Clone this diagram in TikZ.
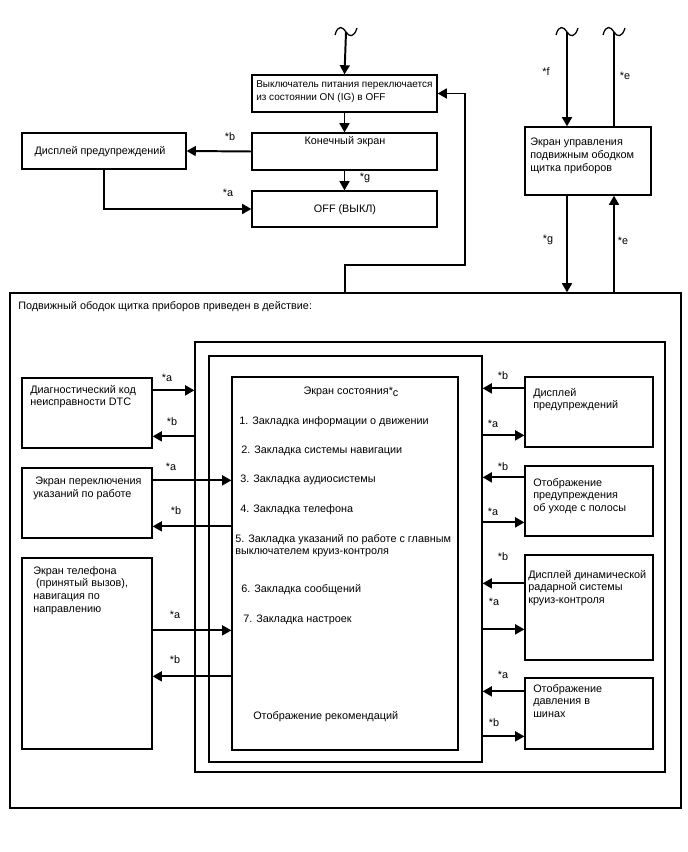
\documentclass[tikz,border=0pt]{standalone}
\usepackage{fontspec}
\setmainfont{Liberation Sans}
\usepackage{tikz}
\usetikzlibrary{positioning, arrows.meta, calc, fit}
\definecolor{InkBlack}{RGB}{0,0,0}

\tikzset{
  pbox/.style={draw=InkBlack, line width=0.9pt, inner sep=0pt, fit={#1}},
  txt/.style={font=\fontsize{7.7}{9}\selectfont, align=left, inner sep=0pt, anchor=north west},
  ctxt/.style={font=\fontsize{7.7}{9}\selectfont, inner sep=0pt},
  lbl/.style={font=\fontsize{7.7}{9}\selectfont, inner sep=0pt},
  arr/.style={draw=InkBlack, line width=1.4pt, -{Triangle[length=6.5pt,width=7pt]}},
  wire/.style={draw=InkBlack, line width=1.4pt},
  squig/.pic={\draw[line width=0.9pt] (-11,3) .. controls (-8,-8) and (-3,-5) .. (0,0)
                .. controls (3,5) and (8,6) .. (11,-4);}
}

\begin{document}
\begin{tikzpicture}[x=0.025cm, y=-0.025cm]
        \useasboundingbox (0,0) rectangle (688,852);

        % ---- Top: switching off ----
        \node[pbox={(252,75)(437,112)}] (sw) {};
        \node[pbox={(252,133)(437,170)}] (fin) {};
        \node[pbox={(22,133)(186,169)}] (warn) {};
        \node[pbox={(252,191)(437,227)}] (off) {};
        \node[txt, font=\fontsize{7.1}{9.2}\selectfont] (sw-t) at (256,80)
              {Выключатель питания переключается\\из состоянии ON (IG) в OFF};
        \node[ctxt] (fin-t) at (345,142) {Конечный экран};
        \node[ctxt] (warn-t) at (100,152) {Дисплей предупреждений};
        \node[ctxt] (off-t) at (345,210) {OFF (ВЫКЛ)};

        \coordinate (t1) at (346,32);
        \pic at (t1) {squig};
        \draw[arr] (t1) -- (sw.north);
        \draw[arr] (sw.south) -- (fin.north);
        \draw[arr] (fin.west) -- (warn.east);
        \draw[arr] (fin.south) -- (off.north);
        \draw[arr] (warn.south) |- (off.west);

        % ---- Top right: bezel control screen ----
        \node[pbox={(525,127)(651,195)}] (ctl) {};
        \node[txt] (ctl-t) at (530,138) {Экран управления\\подвижным ободком\\щитка приборов};
        \coordinate (tf) at (567,32);
        \coordinate (te) at (614,32);
        \pic at (tf) {squig};
        \pic at (te) {squig};

        % ---- Outer frames ----
        \node[pbox={(10,293)(681,808)}] (outer) {};
        \node[pbox={(195,342)(665,772)}] (frameA) {};
        \node[pbox={(209,356)(482,762)}] (frameB) {};
        \node[pbox={(232,377)(458,750)}] (status) {};
        \node[txt] (outer-t) at (18,301) {Подвижный ободок щитка приборов приведен в действие:};

        \draw[arr] (tf) -- (tf |- ctl.north);
        \draw[wire] (te |- ctl.north) -- (te);
        \draw[arr] (tf |- ctl.south) -- (tf |- outer.north);
        \draw[arr] (te |- outer.north) -- (te |- ctl.south);

        % loop back to the power switch
        \coordinate (loopA) at (345,265);
        \coordinate (loopB) at (465,265);
        \draw[arr] (loopA |- outer.north) -- (loopA) -- (loopB) |- (sw.east);

        % ---- Status screen ----
        \node[ctxt] (st-t) at (351,392) {Экран состояния*\raisebox{-1.2pt}{c}};
        \node[txt] (st-1) at (239,416) {1. Закладка информации о движении};
        \node[txt] (st-2) at (241,446) {2. Закладка системы навигации};
        \node[txt] (st-3) at (240,475) {3. Закладка аудиосистемы};
        \node[txt] (st-4) at (240,504) {4. Закладка телефона};
        \node[txt] (st-5) at (235,534) {5. Закладка указаний по работе с главным\\выключателем круиз-контроля};
        \node[txt] (st-6) at (241,584) {6. Закладка сообщений};
        \node[txt] (st-7) at (243,615) {7. Закладка настроек};
        \node[txt] (st-r) at (253,711) {Отображение рекомендаций};

        % ---- Left boxes ----
        \node[pbox={(22,378)(152,448)}] (dtc) {};
        \node[pbox={(22,468)(152,538)}] (job) {};
        \node[pbox={(22,558)(152,749)}] (phone) {};
        \node[txt] (dtc-t) at (30,385) {Диагностический код\\неисправности DTC};
        \node[txt] (job-t) at (33,477) {\hspace{1.5pt}Экран переключения\\указаний по работе};
        \node[txt] (phone-t) at (33,566) {Экран телефона\\\hspace{2pt}(принятый вызов),\\навигация по\\направлению};

        \foreach \n/\da/\db/\tg in {dtc/13/59/frameA, job/13/59/status, phone/73/119/status} {
          \path ($(\n.north east)+(0,\da)$) coordinate (\n-a);
          \path ($(\n.north east)+(0,\db)$) coordinate (\n-b);
          \draw[arr] (\n-a) -- (\n-a -| \tg.west);
          \draw[arr] (\n-b -| \tg.west) -- (\n-b);
        }

        % ---- Right boxes ----
        \node[pbox={(525,377)(653,447)}] (warnR) {};
        \node[pbox={(525,466)(653,536)}] (lane) {};
        \node[pbox={(525,555)(653,660)}] (radar) {};
        \node[pbox={(525,678)(653,749)}] (tire) {};
        \node[txt] (warnR-t) at (533,388) {Дисплей\\предупреждений};
        \node[txt] (lane-t) at (533,478) {Отображение\\предупреждения\\об уходе с полосы};
        \node[txt] (radar-t) at (528,570) {Дисплей динамической\\радарной системы\\круиз-контроля};
        \node[txt] (tire-t) at (533,684) {Отображение\\давления в\\шинах};

        \foreach \n/\di/\do in {warnR/12/59, lane/12/57, radar/29/75, tire/14/59} {
          \path ($(\n.north west)+(0,\di)$) coordinate (\n-i);
          \path ($(\n.north west)+(0,\do)$) coordinate (\n-o);
          \draw[arr] (\n-i) -- (\n-i -| frameB.east);
          \draw[arr] (\n-o -| frameB.east) -- (\n-o);
        }

        % ---- Connector labels ----
        \foreach \t/\x/\y [count=\i] in {b/230/137, a/228/193, g/365/178, f/546/72, e/625/76,
            g/548/240, e/623/241, a/167/378, b/172/422, a/171/467, b/176/511, a/175/615,
            b/175/660, b/503/376, a/493/424, b/503/467, a/493/512, b/503/557, a/494/602,
            a/503/675, b/494/723} {
          \node[lbl] (lab\i) at (\x,\y) {*\t};
        }
      \end{tikzpicture}
\end{document}
